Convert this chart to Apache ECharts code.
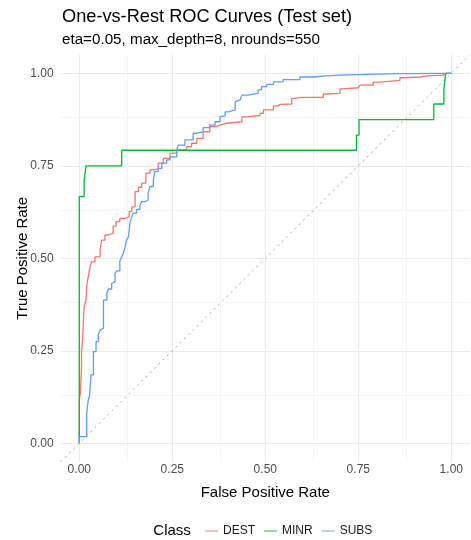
<!DOCTYPE html>
<html>
<head>
<meta charset="utf-8">
<script src="https://cdn.jsdelivr.net/npm/echarts@6/dist/echarts.min.js"></script>
<style>html,body{margin:0;padding:0;background:#fff}#chart{width:471px;height:540px}</style>
</head>
<body>
<div id="chart"></div>
<script>
const classes = ['DEST', 'MINR', 'SUBS'];
const colors = ['#F8766D', '#00BA38', '#619CFF'];
const tickValues = [0, 0.25, 0.5, 0.75, 1];
const minorValues = [0.125, 0.375, 0.625, 0.875];

const destFpr = [0,0.003,0.006,0.006,0.009,0.011,0.013,0.018,0.020,0.024,0.029,0.033,0.042,0.056,0.060,0.069,0.078,0.091,0.099,0.109,0.123,0.134,0.141,0.150,0.159,0.168,0.179,0.190,0.199,0.212,0.226,0.244,0.262,0.289,0.302,0.316,0.333,0.351,0.365,0.378,0.396,0.437,0.450,0.486,0.495,0.522,0.534,0.540,0.571,0.580,0.593,0.656,0.665,0.701,0.708,0.750,0.755,0.790,0.808,0.862,0.871,0.916,0.934,0.978,0.985,1];
const destTpr = [0,0.117,0.136,0.207,0.252,0.279,0.333,0.369,0.387,0.428,0.449,0.477,0.491,0.504,0.522,0.549,0.563,0.568,0.587,0.599,0.608,0.612,0.626,0.639,0.680,0.692,0.703,0.730,0.739,0.741,0.757,0.770,0.784,0.793,0.802,0.811,0.824,0.842,0.856,0.860,0.865,0.869,0.882,0.886,0.892,0.901,0.912,0.916,0.917,0.932,0.935,0.935,0.944,0.946,0.958,0.961,0.966,0.968,0.976,0.981,0.988,0.990,0.993,0.995,1.0,1];

const minrFpr = [0,0.013,0.018,0.114,0.745,0.752,0.953,0.980,0.985,1];
const minrTpr = [0,0.667,0.708,0.750,0.792,0.833,0.875,0.917,0.958,1];

const subsFpr = [0,0.003,0.020,0.020,0.024,0.027,0.031,0.031,0.038,0.038,0.045,0.051,0.056,0.060,0.065,0.065,0.074,0.078,0.087,0.091,0.096,0.101,0.109,0.114,0.118,0.123,0.127,0.132,0.136,0.141,0.145,0.154,0.163,0.168,0.177,0.185,0.190,0.199,0.203,0.212,0.222,0.235,0.244,0.262,0.266,0.284,0.306,0.316,0.333,0.351,0.365,0.378,0.383,0.392,0.401,0.405,0.419,0.423,0.432,0.437,0.452,0.468,0.481,0.490,0.504,0.522,0.548,0.593,0.629,0.665,0.701,0.773,0.862,0.986,1];
const subsTpr = [0,0.018,0.018,0.054,0.081,0.117,0.126,0.176,0.185,0.233,0.248,0.275,0.293,0.306,0.311,0.379,0.387,0.405,0.417,0.432,0.437,0.459,0.466,0.493,0.504,0.512,0.531,0.549,0.558,0.595,0.612,0.622,0.632,0.644,0.653,0.658,0.676,0.694,0.712,0.734,0.743,0.757,0.766,0.774,0.793,0.806,0.820,0.838,0.842,0.853,0.860,0.869,0.883,0.885,0.896,0.901,0.901,0.923,0.928,0.932,0.941,0.944,0.946,0.955,0.964,0.970,0.977,0.983,0.990,0.993,0.995,0.997,0.999,1.0,1];

const diagonal = [-0.05, 1.05];

const FONT = '"Liberation Sans", Arial, sans-serif';
function zip(a, b) { return a.map((v, i) => [v, b[i]]); }

const major = {color: '#EBEBEB', width: 1.1, type: 'solid'};
const minor = {color: '#F3F3F3', width: 0.8, type: 'solid'};
const gridLines = [];
tickValues.forEach(v => { gridLines.push({xAxis: v, lineStyle: major}); gridLines.push({yAxis: v, lineStyle: major}); });
minorValues.forEach(v => { gridLines.push({xAxis: v, lineStyle: minor}); gridLines.push({yAxis: v, lineStyle: minor}); });

const curves = [zip(destFpr, destTpr), zip(minrFpr, minrTpr), zip(subsFpr, subsTpr)];

const chart = echarts.init(document.getElementById('chart'), null, {renderer: 'canvas'});
const option = {
  animation: false,
  backgroundColor: '#ffffff',
  textStyle: {fontFamily: FONT},
  title: [
    {text: 'One-vs-Rest ROC Curves (Test set)', left: 62, top: 7.5, padding: 0,
     textStyle: {fontFamily: FONT, fontSize: 18.2, fontWeight: 'normal', color: '#000'}},
    {text: 'eta=0.05, max_depth=8, nrounds=550', left: 62, top: 32.5, padding: 0,
     textStyle: {fontFamily: FONT, fontSize: 15.2, fontWeight: 'normal', color: '#000'}}
  ],
  grid: {left: 60.7, right: 1.1, top: 54.8, bottom: 78.2, containLabel: false},
  xAxis: {
    type: 'value', min: -0.05, max: 1.05,
    name: 'False Positive Rate', nameLocation: 'middle', nameGap: 24, nameMoveOverlap: false,
    nameTextStyle: {fontFamily: FONT, fontSize: 15, color: '#000'},
    axisLine: {show: false}, axisTick: {show: false},
    splitLine: {show: false},
    axisLabel: {customValues: tickValues, formatter: v => v.toFixed(2), margin: 2,
      fontFamily: FONT, fontSize: 12, color: '#4D4D4D'}
  },
  yAxis: {
    type: 'value', min: -0.05, max: 1.05,
    name: 'True Positive Rate', nameLocation: 'middle', nameGap: 30, nameRotate: 90, nameMoveOverlap: false,
    nameTextStyle: {fontFamily: FONT, fontSize: 15, color: '#000'},
    axisLine: {show: false}, axisTick: {show: false},
    splitLine: {show: false},
    axisLabel: {customValues: tickValues, formatter: v => v.toFixed(2), margin: 7,
      fontFamily: FONT, fontSize: 12, color: '#4D4D4D'}
  },
  legend: {
    left: 200, top: 520, itemWidth: 13, itemHeight: 2, itemGap: 9, icon: 'rect',
    selectedMode: false,
    textStyle: {fontFamily: FONT, fontSize: 12, color: '#1a1a1a'},
    data: classes.map((c, i) => ({name: c, itemStyle: {color: colors[i], opacity: 0.45}}))
  },
  graphic: [
    {type: 'text', left: 153.3, top: 523, style: {text: 'Class', fontFamily: FONT, fontSize: 15, fill: '#000'}}
  ],
  series: [
    {
      name: 'diag', type: 'line', data: zip(diagonal, diagonal), symbol: 'none', silent: true, z: 1,
      lineStyle: {color: '#A6A6A6', width: 1, type: [2, 4]},
      markLine: {silent: true, z: 0, symbol: 'none', label: {show: false}, animation: false, data: gridLines}
    },
    ...classes.map((c, i) => ({
      name: c, type: 'line', data: curves[i], step: 'start', symbol: 'none', z: 3 + i,
      color: colors[i], lineStyle: {color: colors[i], width: 1.3}
    }))
  ]
};
chart.setOption(option);
</script>
</body>
</html>
